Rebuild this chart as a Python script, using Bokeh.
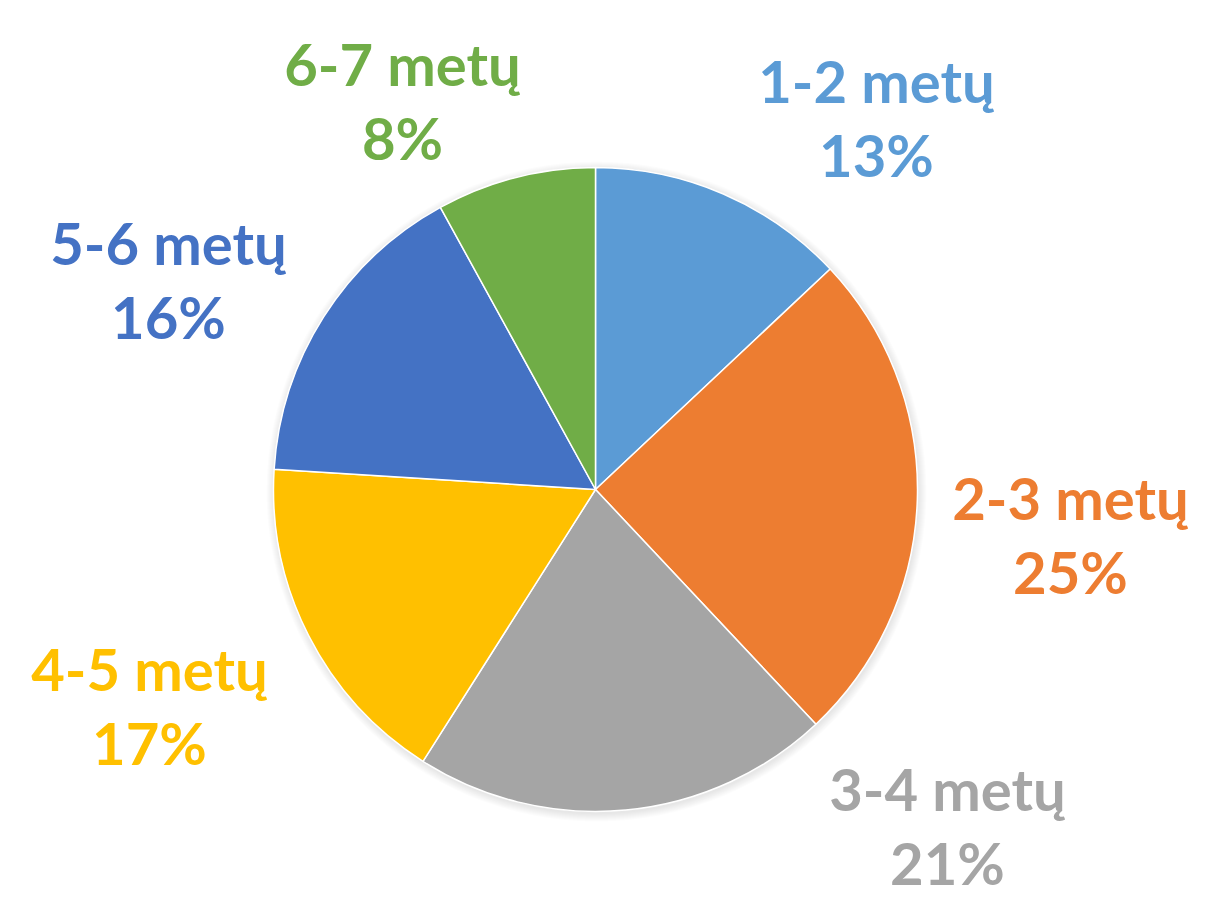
import math
from bokeh.plotting import figure
from bokeh.models import Range1d, ColumnDataSource
from bokeh.core.properties import value
from bokeh.embed import file_html
from bokeh.resources import INLINE

categories = ["1-2 metų", "2-3 metų", "3-4 metų", "4-5 metų", "5-6 metų", "6-7 metų"]
shares = [13, 25, 21, 17, 16, 8]
colors = ["#5B9BD5", "#ED7D31", "#A5A5A5", "#FFC000", "#4472C4", "#70AD47"]

# label layout: (center x, baseline y of first line) in reference pixel space (y down)
label_xy = [(876, 80), (1070, 497), (947, 788), (149, 668), (168, 242), (402, 63)]
line_gap = 74

W, H = 1195, 903
H_REF = 919
cx, cy_ref, r = 595, 489, 322

p = figure(width=W, height=H, output_backend="svg", toolbar_location=None,
           x_range=Range1d(0, W), y_range=Range1d(H_REF - H, H_REF),
           min_border=0)
p.axis.visible = False
p.grid.visible = False
p.outline_line_color = None
p.background_fill_color = "white"

cy = H_REF - cy_ref

# soft shadow
for k in range(8, 0, -1):
    p.circle(x=[cx + 1], y=[cy - 2], radius=r + k, fill_color="black",
             fill_alpha=0.012, line_color=None)

total = sum(shares)
starts, ends = [], []
cum = 0
for s in shares:
    starts.append(math.pi / 2 - 2 * math.pi * cum / total)
    cum += s
    ends.append(math.pi / 2 - 2 * math.pi * cum / total)

src = ColumnDataSource(dict(start=starts, end=ends, color=colors))
p.wedge(x=cx, y=cy, radius=r, start_angle="start", end_angle="end",
        direction="clock", fill_color="color", line_color="white",
        line_width=1.5, source=src)

lx = [xy[0] for xy in label_xy]
ly1 = [H_REF - xy[1] for xy in label_xy]
ly2 = [H_REF - xy[1] - line_gap for xy in label_xy]
pct = [f"{s}%" for s in shares]

p.text(x=lx, y=ly1, text=categories, text_color=colors, text_align="center",
       text_baseline="alphabetic", text_font=value("Lato"), text_font_style="bold",
       text_font_size="58px")
p.text(x=lx, y=ly2, text=pct, text_color=colors, text_align="center",
       text_baseline="alphabetic", text_font=value("Lato"), text_font_style="bold",
       text_font_size="58px")

open("out.html", "w").write(file_html(p, INLINE))
